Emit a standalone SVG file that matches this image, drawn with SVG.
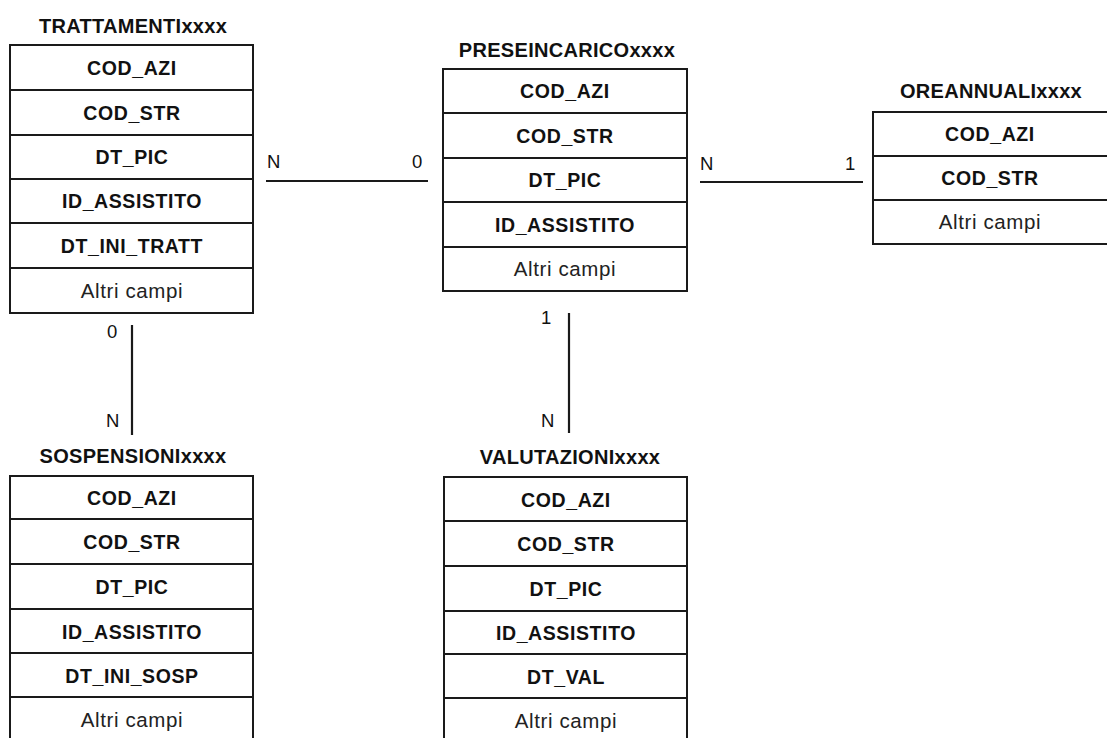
<svg xmlns="http://www.w3.org/2000/svg" width="1107" height="738" viewBox="0 0 1107 738">
<style>
.bg{fill:#ffffff}
.box{fill:#ffffff;stroke:#1a1a1a;stroke-width:2}
.sep{stroke:#1a1a1a;stroke-width:2}
.title{font-family:"Liberation Sans",Arial,sans-serif;font-weight:bold;font-size:20px;letter-spacing:0.3px;fill:#111;text-anchor:middle}
.f{font-family:"Liberation Sans",Arial,sans-serif;font-weight:bold;font-size:19.5px;letter-spacing:0.6px;fill:#111;text-anchor:middle}
.o{font-family:"Liberation Sans",Arial,sans-serif;font-size:20.5px;letter-spacing:0.6px;fill:#222;text-anchor:middle}
.lbl{font-family:"Liberation Sans",Arial,sans-serif;font-size:18.5px;fill:#111}
.con{stroke:#1a1a1a;stroke-width:2.2;fill:none}
</style>
<rect class="bg" x="0" y="0" width="1107" height="738"/>

<g id="connectors">
  <line class="con" x1="266" y1="181" x2="428" y2="181"/>
  <line class="con" x1="700" y1="182" x2="863" y2="182"/>
  <line class="con" x1="132" y1="325" x2="132" y2="435"/>
  <line class="con" x1="569" y1="313" x2="569" y2="433"/>
  <text class="lbl" x="267" y="168">N</text>
  <text class="lbl" x="412" y="168">0</text>
  <text class="lbl" x="700" y="170">N</text>
  <text class="lbl" x="845" y="170">1</text>
  <text class="lbl" x="107" y="338">0</text>
  <text class="lbl" x="106" y="427">N</text>
  <text class="lbl" x="541" y="324">1</text>
  <text class="lbl" x="541" y="427">N</text>
</g>

<g id="trattamenti">
  <text class="title" x="133" y="33">TRATTAMENTIxxxx</text>
  <rect class="box" x="10" y="45" width="243" height="268"/>
  <line class="sep" x1="10" y1="90" x2="253" y2="90"/>
  <line class="sep" x1="10" y1="135" x2="253" y2="135"/>
  <line class="sep" x1="10" y1="179" x2="253" y2="179"/>
  <line class="sep" x1="10" y1="223" x2="253" y2="223"/>
  <line class="sep" x1="10" y1="268" x2="253" y2="268"/>
  <text class="f" x="132" y="75">COD_AZI</text>
  <text class="f" x="132" y="120">COD_STR</text>
  <text class="f" x="132" y="164">DT_PIC</text>
  <text class="f" x="132" y="208">ID_ASSISTITO</text>
  <text class="f" x="132" y="253">DT_INI_TRATT</text>
  <text class="o" x="132" y="298">Altri campi</text>
</g>

<g id="preseincarico">
  <text class="title" x="567" y="57">PRESEINCARICOxxxx</text>
  <rect class="box" x="443" y="69" width="244" height="222"/>
  <line class="sep" x1="443" y1="113" x2="687" y2="113"/>
  <line class="sep" x1="443" y1="158" x2="687" y2="158"/>
  <line class="sep" x1="443" y1="202" x2="687" y2="202"/>
  <line class="sep" x1="443" y1="247" x2="687" y2="247"/>
  <text class="f" x="565" y="98">COD_AZI</text>
  <text class="f" x="565" y="143">COD_STR</text>
  <text class="f" x="565" y="187">DT_PIC</text>
  <text class="f" x="565" y="232">ID_ASSISTITO</text>
  <text class="o" x="565" y="276">Altri campi</text>
</g>

<g id="oreannuali">
  <text class="title" x="991" y="98">OREANNUALIxxxx</text>
  <rect class="box" x="873" y="112" width="246" height="132"/>
  <line class="sep" x1="873" y1="156" x2="1119" y2="156"/>
  <line class="sep" x1="873" y1="200" x2="1119" y2="200"/>
  <text class="f" x="990" y="141">COD_AZI</text>
  <text class="f" x="990" y="185">COD_STR</text>
  <text class="o" x="990" y="229">Altri campi</text>
</g>

<g id="sospensioni">
  <text class="title" x="133" y="463">SOSPENSIONIxxxx</text>
  <rect class="box" x="10" y="476" width="243" height="268"/>
  <line class="sep" x1="10" y1="519" x2="253" y2="519"/>
  <line class="sep" x1="10" y1="564" x2="253" y2="564"/>
  <line class="sep" x1="10" y1="609" x2="253" y2="609"/>
  <line class="sep" x1="10" y1="653" x2="253" y2="653"/>
  <line class="sep" x1="10" y1="697" x2="253" y2="697"/>
  <text class="f" x="132" y="505">COD_AZI</text>
  <text class="f" x="132" y="549">COD_STR</text>
  <text class="f" x="132" y="594">DT_PIC</text>
  <text class="f" x="132" y="639">ID_ASSISTITO</text>
  <text class="f" x="132" y="683">DT_INI_SOSP</text>
  <text class="o" x="132" y="727">Altri campi</text>
</g>

<g id="valutazioni">
  <text class="title" x="570" y="464">VALUTAZIONIxxxx</text>
  <rect class="box" x="444" y="477" width="243" height="268"/>
  <line class="sep" x1="444" y1="521" x2="687" y2="521"/>
  <line class="sep" x1="444" y1="566" x2="687" y2="566"/>
  <line class="sep" x1="444" y1="611" x2="687" y2="611"/>
  <line class="sep" x1="444" y1="654" x2="687" y2="654"/>
  <line class="sep" x1="444" y1="698" x2="687" y2="698"/>
  <text class="f" x="566" y="507">COD_AZI</text>
  <text class="f" x="566" y="551">COD_STR</text>
  <text class="f" x="566" y="596">DT_PIC</text>
  <text class="f" x="566" y="640">ID_ASSISTITO</text>
  <text class="f" x="566" y="684">DT_VAL</text>
  <text class="o" x="566" y="728">Altri campi</text>
</g>
</svg>
